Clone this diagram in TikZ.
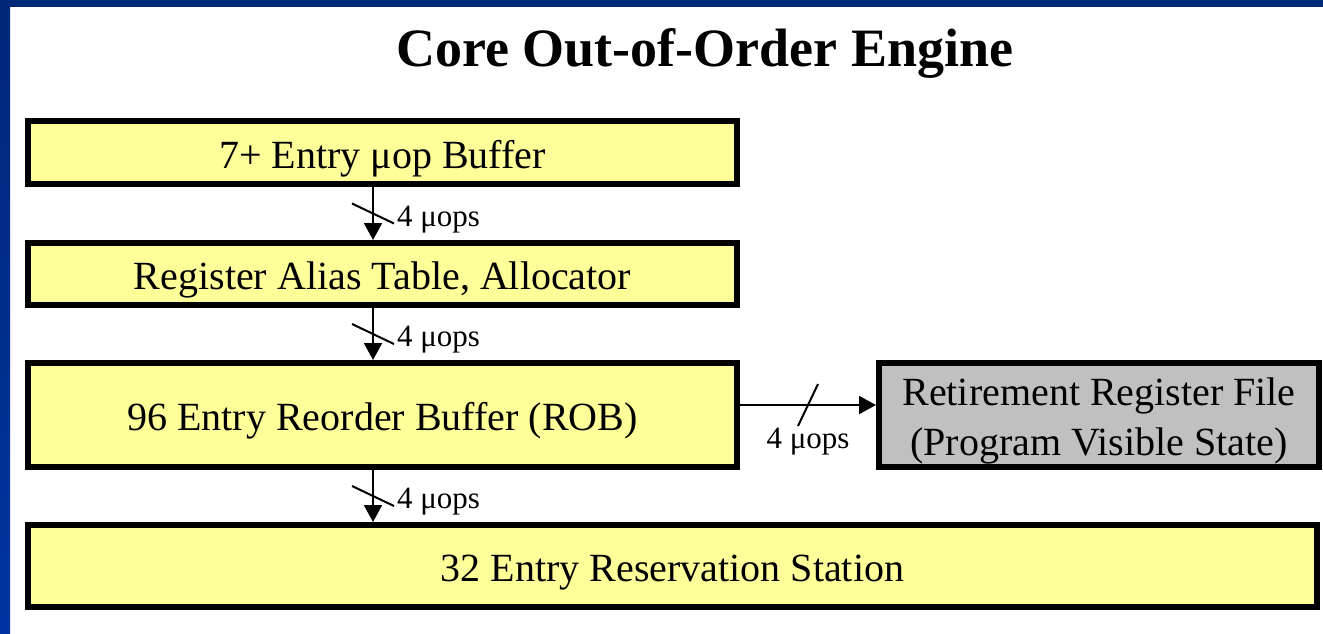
\documentclass[tikz,border=0pt]{standalone}
\usepackage{fontspec}
\setmainfont{Liberation Serif}
\usetikzlibrary{positioning,arrows.meta,decorations.markings}
\definecolor{boxyellow}{RGB}{255,255,153}
\definecolor{boxgray}{RGB}{192,192,192}
\definecolor{topblue}{RGB}{0,40,120}
\definecolor{botblue}{RGB}{0,51,160}
\begin{document}
\begin{tikzpicture}[x=1pt,y=1pt,
  box/.style={draw,line width=6pt,fill=boxyellow,inner sep=0pt,minimum width=709pt,
    font=\fontsize{40}{48}\selectfont,align=center,text height=40pt},
  flow/.style={-{Triangle[length=17pt,width=18pt]},line width=2pt,
    decoration={markings,mark=at position .5 with {\draw[-,line width=2pt] (-10pt,-21pt) -- (10pt,21pt);}},
    postaction={decorate}},
  ops/.style={font=\fontsize{31}{34}\selectfont,inner sep=0pt}]

  \useasboundingbox (0,0) rectangle (1323,-633);
  \fill[topblue] (0,0) rectangle (1323,-7);
  \shade[top color=topblue,bottom color=botblue] (0,0) rectangle (10,-633);

  \node[anchor=base,font=\fontsize{54}{60}\selectfont\bfseries] (title) at (705,-66) {Core Out-of-Order Engine};

  \node[box,minimum height=63pt] (buffer) at (382.5,-152.5) {7+ Entry μop Buffer};
  \node[box,minimum height=62pt,below=53pt of buffer] (rat) {Register Alias Table, Allocator};
  \node[box,minimum height=104pt,below=52pt of rat] (rob) {96 Entry Reorder Buffer (ROB)};
  \node[box,minimum width=1289pt,minimum height=82pt,below=52pt of rob.south west,anchor=north west] (rs) {32 Entry Reservation Station};
  \node[box,fill=boxgray,minimum width=440pt,minimum height=104pt,font=\fontsize{40}{50}\selectfont,text height=89pt,right=136pt of rob] (rrf) {Retirement Register File\\(Program Visible State)};

  \path
  ([xshift=-9.5pt]buffer.south) edge[flow] node[ops,right=23pt,yshift=-6pt] {4 μops} ([xshift=-9.5pt]rat.north)
  ([xshift=-9.5pt]rat.south) edge[flow] node[ops,right=23pt,yshift=-6pt] {4 μops} ([xshift=-9.5pt]rob.north)
  ([xshift=-9.5pt]rob.south) edge[flow] node[ops,right=23pt,yshift=-6pt] {4 μops} ([xshift=-9.5pt]rs.north -| rob.south)
  ([yshift=10pt]rob.east) edge[flow] node[ops,below=22pt] {4 μops} ([yshift=10pt]rrf.west);
\end{tikzpicture}
\end{document}
